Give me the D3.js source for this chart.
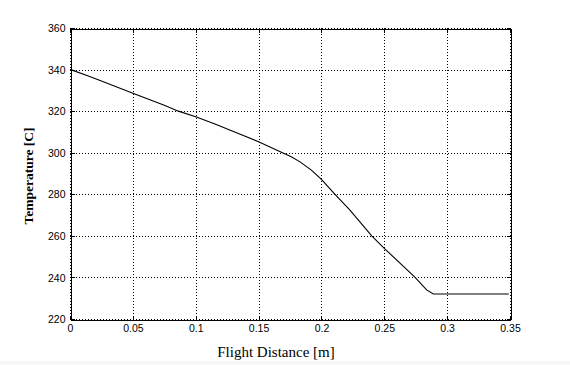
<!DOCTYPE html>
<html>
<head>
<meta charset="utf-8">
<script src="https://cdn.jsdelivr.net/npm/d3@7"></script>
<style>
  html, body { margin: 0; padding: 0; background: #fff; }
  svg { display: block; }
</style>
</head>
<body>
<svg id="chart" width="570" height="365"></svg>
<script>
// ---- data ----
const distance = [0, 0.0146, 0.025, 0.05, 0.075, 0.0862, 0.1, 0.1153, 0.13, 0.15, 0.169, 0.176, 0.183, 0.192, 0.2, 0.2108, 0.2227, 0.24, 0.25, 0.2745, 0.2837, 0.289, 0.349];
const temperature = [340.1, 336.9, 334.5, 328.6, 322.8, 320, 317.3, 313.8, 310.2, 305.3, 300, 298.1, 295.6, 291.6, 287.2, 280, 272.4, 260, 254, 240, 234, 232, 232];
const xTicks = [0, 0.05, 0.1, 0.15, 0.2, 0.25, 0.3, 0.35];
const yTicks = [220, 240, 260, 280, 300, 320, 340, 360];
const xTickLabels = ["0", "0.05", "0.1", "0.15", "0.2", "0.25", "0.3", "0.35"];
const yTickLabels = ["220", "240", "260", "280", "300", "320", "340", "360"];
const xTitle = "Flight Distance [m]";
const yTitle = "Temperature [C]";

// ---- layout ----
const L = 70, R = 510, T = 28, B = 319;
const svg = d3.select("#chart");
svg.append("rect").attr("x", 0).attr("y", 361).attr("width", 570).attr("height", 4).attr("fill", "#f7f7f7");

const x = d3.scaleLinear().domain([0, 0.35]).range([L, R]);
const y = d3.scaleLinear().domain([220, 360]).range([B, T]);

const g = svg.append("g").attr("shape-rendering", "crispEdges");

// grid (dotted)
g.selectAll(".gx").data(xTicks).enter().append("line")
  .attr("x1", d => Math.round(x(d)) + 0.5).attr("x2", d => Math.round(x(d)) + 0.5)
  .attr("y1", T).attr("y2", B)
  .attr("stroke", "#000").attr("stroke-width", 1).attr("stroke-dasharray", "1,2");
g.selectAll(".gy").data(yTicks).enter().append("line")
  .attr("y1", d => Math.round(y(d)) + 0.5).attr("y2", d => Math.round(y(d)) + 0.5)
  .attr("x1", L).attr("x2", R)
  .attr("stroke", "#000").attr("stroke-width", 1).attr("stroke-dasharray", "1,2");

// axes via d3 with inward ticks
const xb = svg.append("g").attr("transform", `translate(0,${B + 0.5})`)
  .call(d3.axisBottom(x).tickValues(xTicks).tickFormat((d, i) => xTickLabels[i]).tickSizeInner(-4).tickSizeOuter(0).tickPadding(5));
const xt = svg.append("g").attr("transform", `translate(0,${T + 0.5})`)
  .call(d3.axisTop(x).tickValues(xTicks).tickFormat("").tickSizeInner(-4).tickSizeOuter(0));
const yl = svg.append("g").attr("transform", `translate(${L + 0.5},0)`)
  .call(d3.axisLeft(y).tickValues(yTicks).tickFormat((d, i) => yTickLabels[i]).tickSizeInner(-4).tickSizeOuter(0).tickPadding(5));
const yr = svg.append("g").attr("transform", `translate(${R + 0.5},0)`)
  .call(d3.axisRight(y).tickValues(yTicks).tickFormat("").tickSizeInner(-4).tickSizeOuter(0));

[xb, xt, yl, yr].forEach(a => {
  a.attr("shape-rendering", "crispEdges");
  a.selectAll("path, line").attr("stroke", "#000").attr("stroke-width", 1);
  a.selectAll("text").attr("fill", "#000")
    .style("font-family", "'Liberation Sans', Arial, sans-serif").style("font-size", "10.5px");
});
xb.selectAll("text").attr("dy", "0.71em");
yl.selectAll("text").attr("dy", "0.35em");

// curve
const line = d3.line().x(d => x(d[0])).y(d => y(d[1]));
svg.append("path")
  .datum(distance.map((d, i) => [d, temperature[i]]))
  .attr("d", line)
  .attr("fill", "none").attr("stroke", "#000").attr("stroke-width", 1.1);

// titles
svg.append("text").attr("x", 276).attr("y", 357).attr("text-anchor", "middle")
  .style("font-family", "'Liberation Serif', 'Times New Roman', serif").style("font-size", "15px")
  .text(xTitle);
svg.append("text").attr("transform", "translate(33,176) rotate(-90)").attr("text-anchor", "middle")
  .style("font-family", "'Liberation Serif', 'Times New Roman', serif").style("font-size", "13.5px").style("font-weight", "bold")
  .text(yTitle);
</script>
</body>
</html>
